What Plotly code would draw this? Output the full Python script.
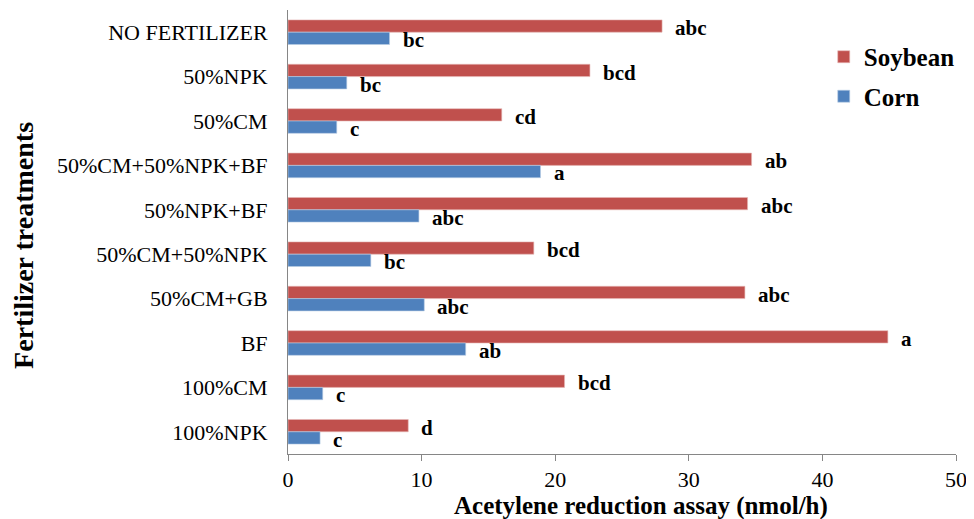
import plotly.graph_objects as go

categories = ["NO FERTILIZER", "50%NPK", "50%CM", "50%CM+50%NPK+BF", "50%NPK+BF",
              "50%CM+50%NPK", "50%CM+GB", "BF", "100%CM", "100%NPK"]
soybean = [28.0, 22.6, 16.0, 34.7, 34.4, 18.4, 34.2, 44.9, 20.7, 9.0]
corn = [7.6, 4.4, 3.65, 18.9, 9.8, 6.2, 10.2, 13.3, 2.6, 2.4]
soy_letters = ["abc", "bcd", "cd", "ab", "abc", "bcd", "abc", "a", "bcd", "d"]
corn_letters = ["bc", "bc", "c", "a", "abc", "bc", "abc", "ab", "c", "c"]
x_ticks = [0, 10, 20, 30, 40, 50]

RED = "#C0504D"
BLUE = "#4F81BD"
FONT = "Liberation Serif"

fig = go.Figure()
fig.add_trace(go.Bar(y=categories, x=soybean, orientation="h", name="<b>Soybean</b>",
                     marker=dict(color=RED, line=dict(color="#e6b8b7", width=0.6)),
                     legendgroup="s"))
fig.add_trace(go.Bar(y=categories, x=corn, orientation="h", name="<b>Corn</b>",
                     marker=dict(color=BLUE, line=dict(color="#b8cce4", width=0.6)),
                     legendgroup="c"))

ann = []
for c, v, t in zip(categories, soybean, soy_letters):
    ann.append(dict(x=v, y=c, text="<b>%s</b>" % t, showarrow=False, xanchor="left",
                    xshift=11, yshift=4, font=dict(family=FONT, size=21, color="black")))
for c, v, t in zip(categories, corn, corn_letters):
    ann.append(dict(x=v, y=c, text="<b>%s</b>" % t, showarrow=False, xanchor="left",
                    xshift=11, yshift=-8, font=dict(family=FONT, size=21, color="black")))

# axis titles
ann.append(dict(xref="paper", yref="paper", x=0.528, y=0, yshift=-52,
                xanchor="center", yanchor="middle", showarrow=False,
                text="<b>Acetylene reduction assay (nmol/h)</b>",
                font=dict(family=FONT, size=25, color="black")))
ann.append(dict(xref="paper", yref="paper", x=-0.395, y=0.469, textangle=-90,
                xanchor="center", yanchor="middle", showarrow=False,
                text="<b>Fertilizer treatments</b>",
                font=dict(family=FONT, size=28, color="black")))

fig.update_layout(
    width=966, height=511,
    margin=dict(l=280, r=18, t=2, b=65, autoexpand=False),
    paper_bgcolor="white", plot_bgcolor="white",
    barmode="group", bargap=0.445, bargroupgap=0,
    font=dict(family=FONT, size=22, color="black"),
    annotations=ann,
    legend=dict(x=0.802, y=0.946, xanchor="left", yanchor="top",
                font=dict(family=FONT, size=25, color="black"),
                tracegroupgap=4, bgcolor="rgba(0,0,0,0)"),
    xaxis=dict(range=[0, 50], tickvals=x_ticks, showgrid=False, zeroline=False,
               showline=True, linecolor="#868686", linewidth=1,
               ticks="outside", ticklen=6, tickcolor="#868686",
               tickfont=dict(family=FONT, size=22), ticklabelstandoff=0,
               automargin=False),
    yaxis=dict(categoryorder="array", categoryarray=categories, autorange="reversed",
               showgrid=False, showline=True, linecolor="#868686", linewidth=1,
               ticks="", tickfont=dict(family=FONT, size=22), ticklabelstandoff=15,
               automargin=False),
)

fig.write_html("out.html")
